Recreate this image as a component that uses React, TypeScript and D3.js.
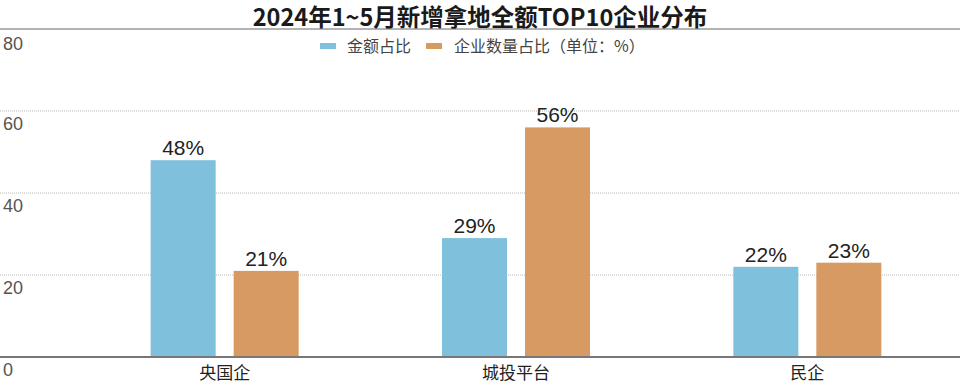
import * as d3 from "d3";
import React from "react";

const categories = ["央国企", "城投平台", "民企"];
const amountShare = [48, 29, 22];
const countShare = [21, 56, 23];
const seriesNames = ["金额占比", "企业数量占比（单位：%）"];
const yTicks = [0, 20, 40, 60, 80];
const title = "2024年1~5月新增拿地全额TOP10企业分布";

const W = 960;
const H = 385;
const colors = ["#7fc0dc", "#d79a63"];
const cjk = "'Noto Sans CJK SC', 'Noto Sans', sans-serif";
const latin = "'Liberation Sans', Arial, sans-serif";

export default function App() {
  const x = d3.scaleBand().domain(categories).range([79, 953]).paddingInner(0).paddingOuter(0);
  const y = d3.scaleLinear().domain([0, 80]).range([357, 29]);
  const barW = 65;
  const gap = 18;
  const series = [amountShare, countShare];

  return (
    <div style={{ position: "absolute", left: 0, top: 0 }}>
      <svg width={W} height={H} style={{ display: "block", background: "#fff" }}>
        <text x={480} y={26} textAnchor="middle" fontFamily={cjk} fontWeight={700} fontSize={23.5} fill="#1a1a1a">
          {title}
        </text>

        {yTicks.map((t) => (
          <g key={t}>
            {t !== 0 && t !== 80 && (
              <line x1={0} x2={W} y1={y(t)} y2={y(t)} stroke="#b8b8b8" strokeWidth={1} strokeDasharray="1,1" />
            )}
            <text x={3} y={y(t) + (t === 80 ? 21 : 18.5)} fontFamily={latin} fontSize={18} fill="#555">
              {t}
            </text>
          </g>
        ))}
        <line x1={0} x2={W} y1={y(80)} y2={y(80)} stroke="#666" strokeWidth={1} />

        {categories.map((c, i) => {
          const cx = (x(c) ?? 0) + x.bandwidth() / 2;
          return (
            <g key={c}>
              {series.map((vals, s) => {
                const bx = s === 0 ? cx - gap / 2 - barW : cx + gap / 2;
                const v = vals[i];
                return (
                  <g key={s}>
                    <rect x={bx} y={y(v)} width={barW} height={y(0) - y(v)} fill={colors[s]} />
                    <text x={bx + barW / 2} y={y(v) - 5} textAnchor="middle" fontFamily={latin} fontSize={21} fill="#222">
                      {v}%
                    </text>
                  </g>
                );
              })}
              <text x={cx} y={379} textAnchor="middle" fontFamily={cjk} fontSize={17} fill="#222">
                {c}
              </text>
            </g>
          );
        })}

        <line x1={0} x2={W} y1={y(0)} y2={y(0)} stroke="#777" strokeWidth={2} />

        <g fontFamily={cjk} fontSize={16} fill="#444">
          <rect x={320} y={43} width={16} height={6} fill={colors[0]} />
          <text x={347} y={52}>{seriesNames[0]}</text>
          <rect x={426} y={43} width={16} height={6} fill={colors[1]} />
          <text x={454} y={52}>{seriesNames[1]}</text>
        </g>
      </svg>
    </div>
  );
}
